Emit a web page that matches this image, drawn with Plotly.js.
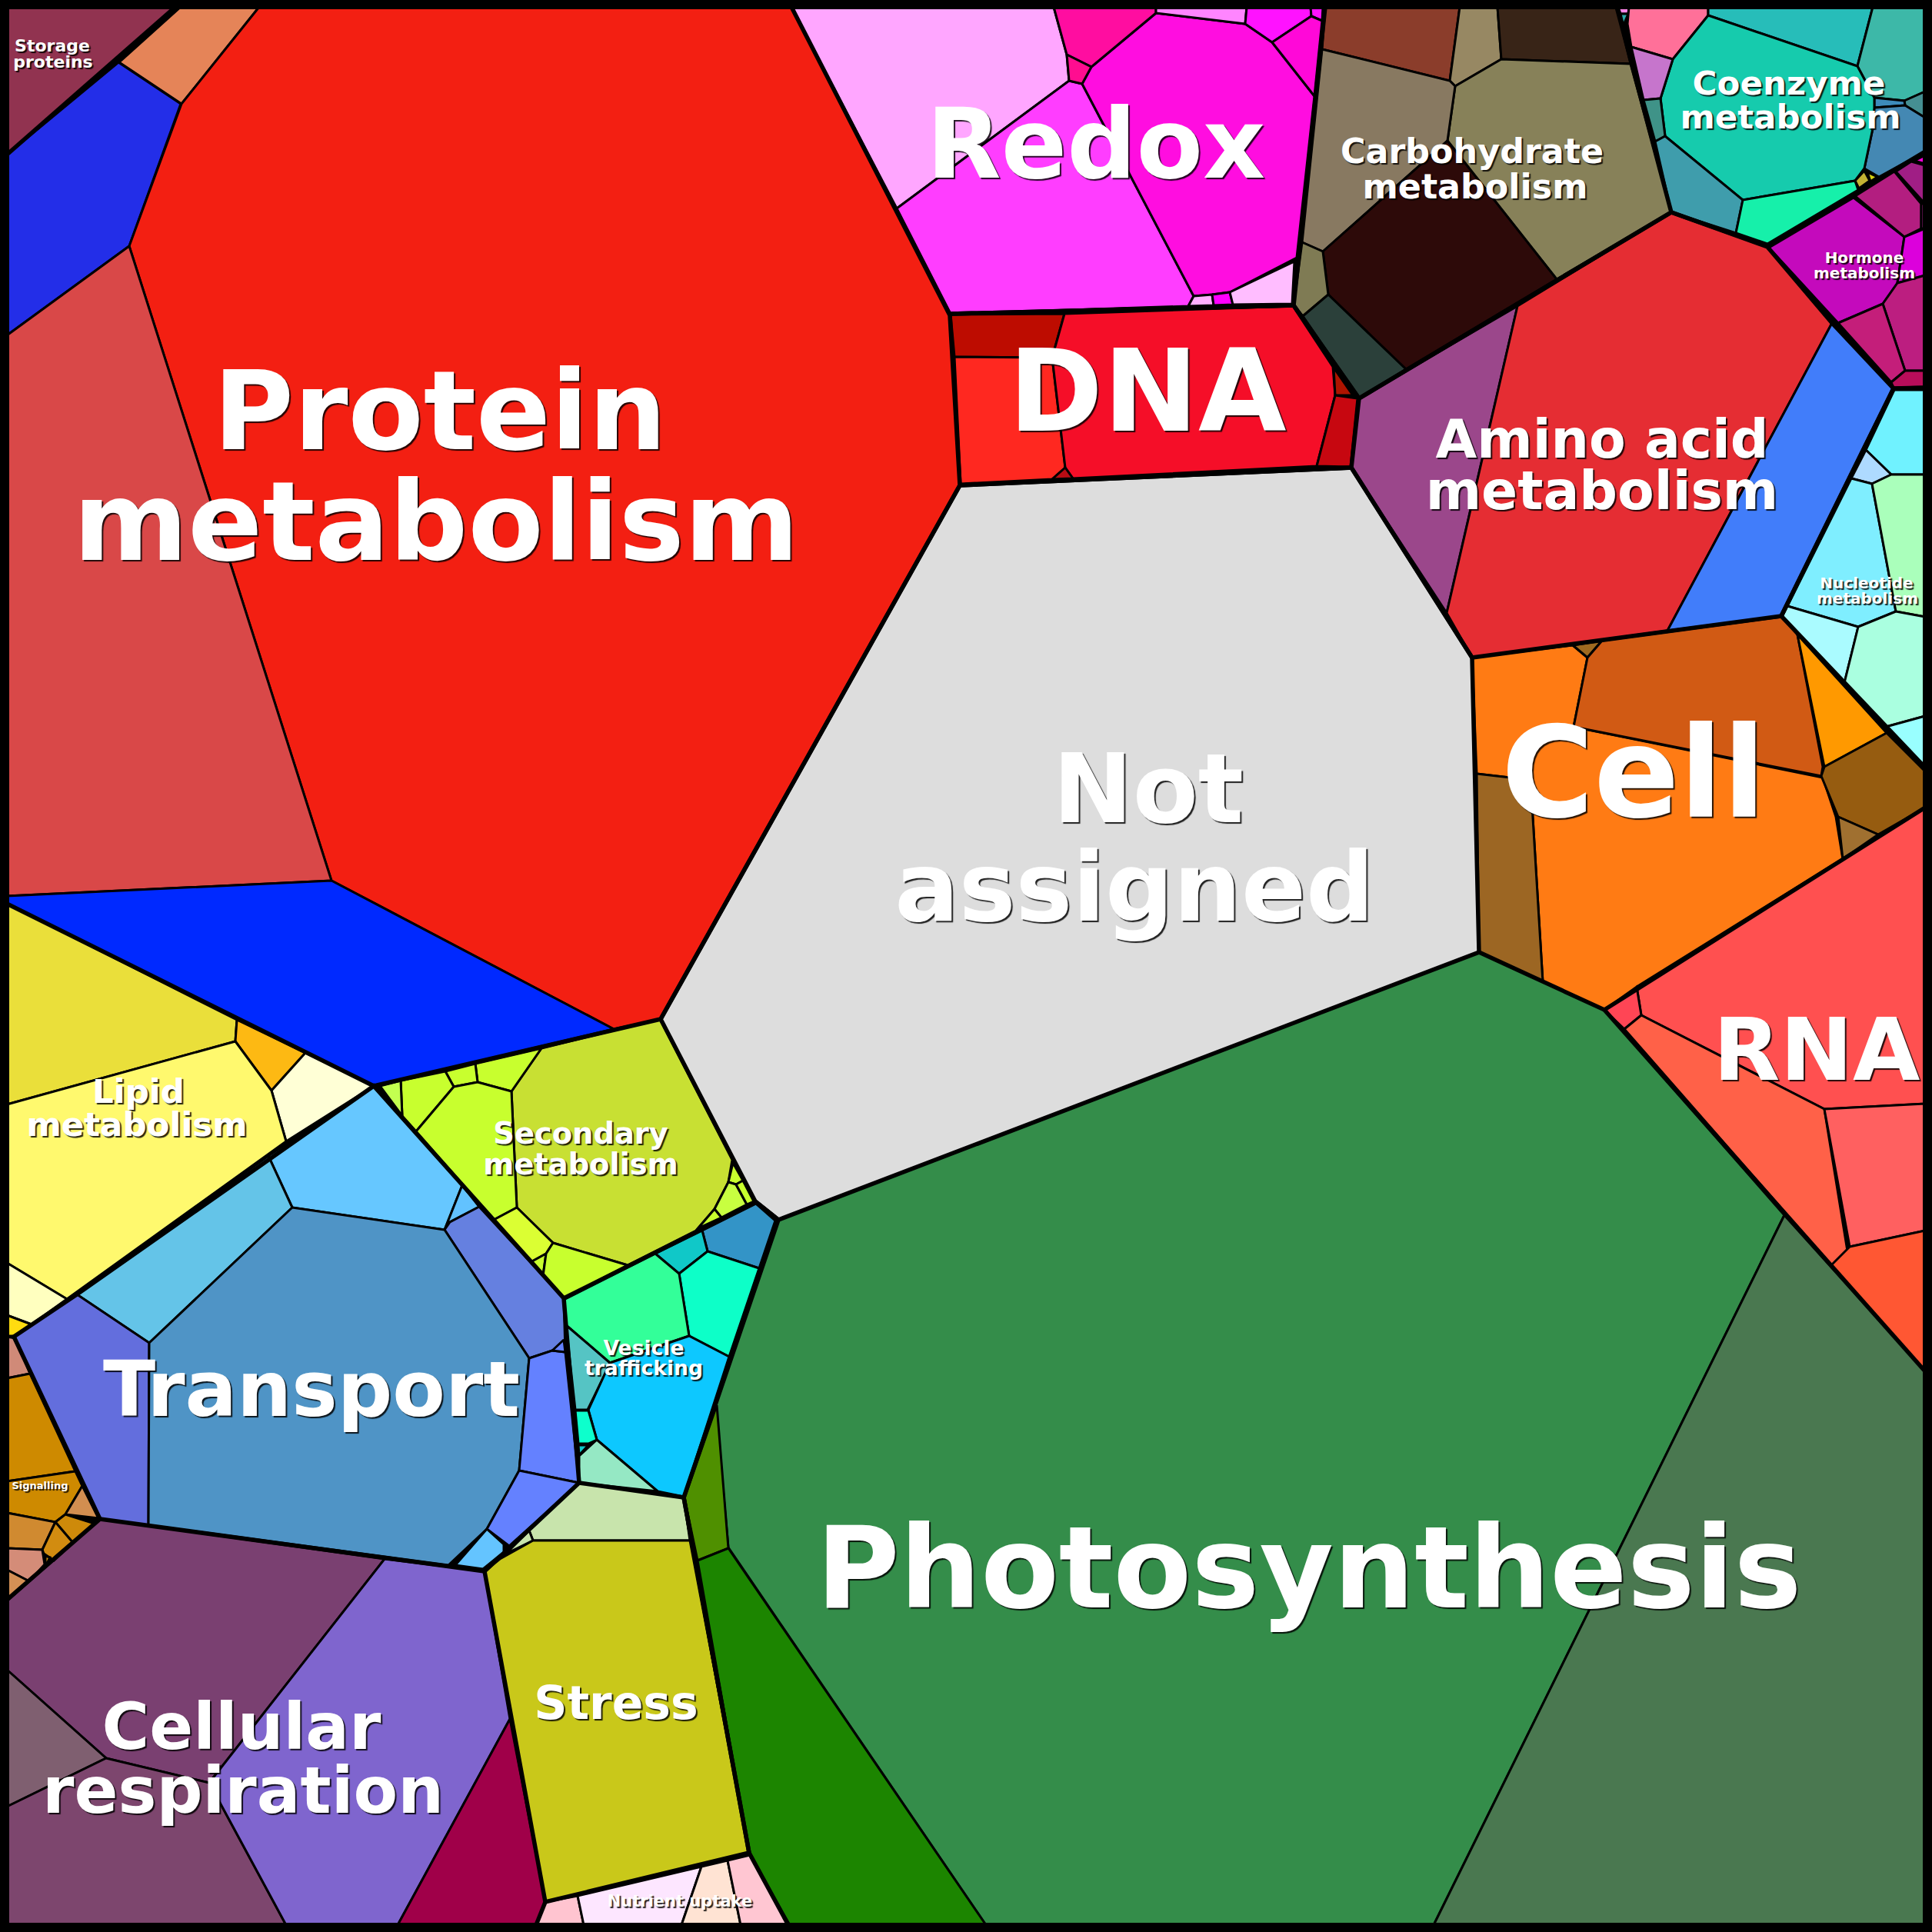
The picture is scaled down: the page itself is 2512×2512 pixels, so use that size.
<!DOCTYPE html>
<html>
<head>
<meta charset="utf-8">
<script src="https://cdn.plot.ly/plotly-3.0.1.min.js"></script>
<style>html,body{margin:0;padding:0;background:#000}#chart{width:2512px;height:2512px}</style>
</head>
<body>
<div id="chart"></div>
<script>
const storageCells = [[12,12,228,12,12,201]];
const storageColors = ['#913350'];
const proteinCells = [
 [235,12,337,12,236,135,155,81],
 [12,201,154,81,235,135,168,320,12,436],
 [337,12,1029,12,1235,410,1248,631,859,1325,798,1338,431,1145,168,320,236,135],
 [12,436,168,320,431,1145,12,1165],
 [12,1165,431,1145,798,1338,486,1412,12,1175]];
const proteinColors = ['#E58458','#232EE8','#F31F12','#D94848','#0029FF'];
const notAssignedCells = [[1248,631,1757,608,1914,855,1923,1238,1012,1586,982,1562,859,1325]];
const notAssignedColors = ['#DDDDDD'];
const redoxCells = [
 [1029,12,1370,12,1387,71,1390,105,1166,271],
 [1166,271,1390,105,1407,109,1552,385,1545,398,1236,408],
 [1407,109,1419,87,1503,17,1619,31,1654,55,1709,125,1686,335,1599,380,1576,383,1552,385],
 [1370,12,1503,12,1503,17,1419,87,1387,71],
 [1387,71,1419,87,1407,109,1390,105],
 [1503,12,1621,12,1619,31,1503,17],
 [1621,12,1704,12,1705,21,1654,55,1619,31],
 [1704,12,1720,12,1719,27,1705,21],
 [1705,21,1719,27,1709,125,1654,55],
 [1552,385,1576,383,1578,397,1545,398],
 [1576,383,1599,380,1603,396,1578,397],
 [1599,380,1683,340,1680,395,1603,396]];
const redoxColors = ['#FFA6FF','#FF3DFF','#FF0DE0','#FF0DA0','#FF0D90','#FF85FF','#FF12FF','#FF12FF','#FF08D8','#FFB0FF','#FF00FF','#FFBDFF'];
const dnaCells = [
 [1236,409,1384,408,1368,465,1241,464],
 [1241,464,1368,465,1385,608,1368,623,1249,629],
 [1384,408,1681,398,1733,477,1736,514,1712,606,1395,622,1385,608,1368,465],
 [1734,478,1759,514,1736,514],
 [1736,514,1765,518,1756,607,1712,606],
 [1368,623,1385,608,1395,622]];
const dnaColors = ['#BD0C00','#FF2820','#F50E28','#AE1400','#C70710','#B80C14'];
const carbohydrateCells = [
 [1723,12,1898,12,1885,105,1719,64],
 [1898,12,1947,12,1952,77,1892,112,1885,105],
 [1947,12,2102,12,2120,83,1952,77],
 [1892,112,1952,77,2120,83,2173,276,2024,363,1882,183],
 [1719,64,1885,105,1892,112,1882,183,1720,327,1693,315],
 [1720,327,1882,183,2024,363,1828,480,1727,383],
 [1693,315,1720,327,1727,383,1694,411,1682,397],
 [1694,411,1727,383,1828,480,1767,518]];
const carbohydrateColors = ['#8B3D2B','#978863','#382417','#878159','#887961','#2D0A09','#7F7B54','#2B403A'];
const aminoAcidCells = [
 [1767,518,1973,398,1881,797,1757,608],
 [1973,398,2173,276,2298,321,2382,420,2168,820,1914,855,1881,797],
 [2382,420,2462,505,2316,801,2168,820]];
const aminoAcidColors = ['#9B478B','#E52D33','#417DFA'];
const coenzymeCells = [
 [2104,12,2118,12,2117,18,2107,18],
 [2107,18,2117,18,2112,30,2110,30],
 [2110,31,2113,31,2119,61,2118,62],
 [2118,12,2221,12,2221,20,2175,77,2121,61,2116,31],
 [2221,12,2435,12,2415,86,2221,20],
 [2435,12,2500,12,2500,119,2476,131,2437,127,2415,86],
 [2476,131,2500,119,2500,153,2477,137],
 [2437,127,2476,131,2477,137,2437,140],
 [2437,140,2477,137,2500,153,2500,197,2443,230,2424,219,2435,167],
 [2221,20,2415,86,2437,127,2437,140,2435,167,2424,219,2412,235,2266,260,2165,177,2159,128,2175,77],
 [2121,61,2175,77,2159,128,2137,130],
 [2137,130,2159,128,2165,177,2152,184],
 [2152,184,2165,177,2266,260,2257,303,2173,276],
 [2266,260,2412,235,2416,247,2298,317,2257,303],
 [2412,235,2424,222,2431,235,2417,245],
 [2428,224,2441,230,2432,236]];
const coenzymeColors = ['#FF85E8','#2CA7A7','#FF70FF','#FF7099','#27BDB9','#3DB8A8','#458F92','#3D8BBB','#4488B3','#16CBAD','#C675CC','#3F9388','#3F9DAC','#16F0AA','#C2B233','#D4D010'];
const hormoneCells = [
 [2300,322,2410,257,2476,308,2467,368,2448,395,2390,420],
 [2412,255,2463,223,2498,265,2498,297,2476,308],
 [2465,223,2485,210,2500,215,2500,265],
 [2498,265,2500,265,2500,297,2498,297],
 [2489,209,2500,202,2500,213],
 [2476,308,2500,297,2500,358,2467,368],
 [2467,368,2500,358,2500,482,2477,482,2448,395],
 [2390,420,2448,395,2477,482,2459,497],
 [2477,482,2500,482,2500,503,2462,504,2459,497]];
const hormoneColors = ['#C40ABC','#B31E80','#A01E85','#9A1E80','#FF00E0','#DC00DC','#BC1E80','#C41E7A','#B80D5A'];
const nucleotideCells = [
 [2463,507,2500,507,2500,617,2459,617,2426,585],
 [2426,585,2459,617,2434,629,2407,622],
 [2407,622,2434,629,2465,795,2416,815,2324,788],
 [2459,617,2500,617,2500,802,2465,795,2434,629],
 [2324,788,2416,815,2398,888,2317,802],
 [2416,815,2465,795,2500,802,2500,931,2452,945,2398,888],
 [2452,945,2500,931,2500,998]];
const nucleotideColors = ['#70F2FF','#AEDAFF','#7FEEFF','#AAFFBB','#AAFBFF','#AAFFE0','#99FFFF'];
const cellCells = [
 [1914,855,2045,839,2064,855,2046,945,2370,1011,2387,1062,2396,1117,2086,1313,2006,1277,1990,1014,1920,1006],
 [1920,1006,1990,1014,2006,1277,1923,1238],
 [2045,839,2083,833,2064,855],
 [2064,855,2083,833,2317,802,2337,825,2370,997,2368,1009,2046,945],
 [2337,825,2453,953,2372,997],
 [2372,997,2453,953,2500,1003,2500,1050,2442,1085,2390,1062,2368,1009],
 [2390,1062,2442,1085,2396,1117]];
const cellColors = ['#FF7B14','#9C6623','#A06A20','#D15A14','#FF9900','#965C10','#A07030'];
const rnaCells = [
 [2128,1283,2500,1050,2500,1435,2372,1442,2134,1320],
 [2086,1313,2128,1283,2134,1320,2112,1338],
 [2112,1338,2134,1320,2372,1442,2405,1645,2381,1645],
 [2372,1442,2500,1435,2500,1600,2405,1621],
 [2405,1621,2500,1600,2500,1783,2381,1645]];
const rnaColors = ['#FF5050','#FF4555','#FF6148','#FF6060','#FF5733'];
const photosynthesisCells = [
 [1012,1586,1923,1238,2086,1313,2320,1580,1864,2500,1282,2500,947,2012,930,1825],
 [2320,1580,2500,1783,2500,2500,1864,2500],
 [932,1827,947,2013,907,2029,890,1948],
 [907,2029,947,2013,1282,2500,1025,2500,974,2409]];
const photosynthesisColors = ['#348D4A','#4A7850','#4F9000','#1C8500'];
const stressCells = [
 [753,1928,889,1947,897,2003,693,2003,688,1990],
 [688,1990,693,2003,658,2020],
 [693,2003,897,2003,974,2409,709,2473,630,2043,650,2027]];
const stressColors = ['#C8E4AC','#C8E4AC','#C9C81A'];
const nutrientCells = [
 [709,2473,751,2465,759,2500,697,2500],
 [751,2465,912,2427,886,2500,759,2500],
 [912,2427,946,2419,963,2500,886,2500],
 [946,2419,975,2412,1027,2500,963,2500]];
const nutrientColors = ['#FFC4D0','#FDE6FF','#FFE3D3','#FFC6D2'];
const respirationCells = [
 [12,2082,130,1975,500,2027,272,2318,138,2286,12,2171],
 [12,2171,138,2286,12,2349],
 [12,2349,138,2286,272,2318,372,2500,12,2500],
 [500,2027,630,2043,663,2235,517,2500,372,2500,272,2318],
 [663,2235,709,2473,697,2500,517,2500]];
const respirationColors = ['#7A4071','#7F5F70','#7D466E','#7F65CE','#A00049'];
const transportCells = [
 [486,1412,601,1541,578,1599,380,1570,349,1503],
 [601,1541,623,1569,585,1589,578,1599],
 [623,1569,733,1688,735,1758,718,1756,688,1766,578,1599,585,1589],
 [349,1503,380,1570,194,1746,100,1683],
 [18,1738,100,1683,194,1746,193,1983,130,1975],
 [194,1746,380,1570,578,1599,688,1766,675,1912,633,1988,583,2035,193,1983],
 [688,1766,718,1756,735,1758,753,1928,675,1912],
 [675,1912,753,1928,662,2010,633,1988],
 [718,1756,733,1742,735,1758],
 [633,1988,655,2008,655,2018,628,2040,592,2035]];
const transportColors = ['#66C7FF','#62C2FF','#6580E0','#64C4E8','#636EDD','#4F94C6','#6481FF','#6481FF','#6481FF','#64C4FF'];
const lipidCells = [
 [12,1175,308,1326,306,1354,12,1436],
 [308,1326,397,1369,353,1418,306,1354],
 [397,1369,486,1412,372,1484,353,1418],
 [12,1436,306,1354,353,1418,372,1484,87,1689,12,1642],
 [12,1642,87,1689,41,1722,12,1710],
 [12,1710,41,1722,20,1737,12,1737]];
const lipidColors = ['#EADF3A','#FDB913','#FFFFD6','#FFF96E','#FFFFBF','#FFDC10'];
const signallingCells = [
 [12,1738,20,1740,39,1786,12,1792],
 [12,1792,39,1786,98,1913,12,1926],
 [12,1926,98,1913,107,1932,85,1969,72,1979,12,1967],
 [107,1932,128,1974,85,1969],
 [85,1969,123,1981,95,2006,72,1979],
 [12,1967,72,1979,55,2015,12,2013],
 [72,1979,95,2006,70,2029,57,2020,55,2015],
 [59,2023,65,2025,59,2037],
 [12,2013,55,2015,58,2034,38,2056,12,2041],
 [12,2041,38,2056,12,2080]];
const signallingColors = ['#D08A78','#CE8A00','#CE8A00','#D28E50','#CE8A0A','#D08A30','#D28C10','#D29010','#D48C78','#D49055'];
const secondaryCells = [
 [704,1363,858,1325,952,1508,947,1537,929,1572,905,1600,816,1645,719,1616,672,1570,665,1419],
 [618,1383,704,1363,665,1419,621,1407],
 [579,1393,618,1383,621,1407,590,1413],
 [521,1405,579,1393,590,1413,541,1471,523,1451],
 [494,1412,521,1405,523,1451],
 [590,1413,621,1407,665,1419,672,1570,642,1586,541,1471],
 [642,1586,672,1570,719,1616,710,1630,690,1641],
 [690,1641,710,1630,706,1659],
 [719,1616,816,1645,733,1688,706,1659,710,1630],
 [953,1512,966,1535,957,1540,947,1537],
 [957,1540,971,1566,938,1583,929,1572,947,1537],
 [966,1535,980,1562,971,1566,957,1540],
 [929,1572,938,1583,910,1596,905,1600]];
const secondaryColors = ['#C8E033','#C8FF2E','#C8FF2E','#C8FF2E','#C3FF50','#C8FF2E','#DBFF33','#C8FF2E','#C8FF2E','#C8FF2E','#C8FF40','#C8FF2E','#C8FF2E'];
const vesicleCells = [
 [913,1600,983,1565,1008,1587,987,1649,920,1627],
 [852,1630,913,1600,920,1627,883,1656],
 [883,1656,920,1627,987,1649,948,1764,896,1737],
 [733,1690,852,1630,883,1656,896,1737,793,1772,736,1723],
 [736,1723,793,1772,786,1788,764,1833,748,1833],
 [793,1772,896,1737,948,1764,889,1946,855,1939,776,1872,765,1833,786,1788],
 [748,1834,765,1834,776,1872,765,1877,752,1877],
 [752,1879,765,1879,753,1892],
 [753,1893,776,1872,855,1939,753,1928]];
const vesicleColors = ['#3394C7','#10C8C8','#0DFFC8','#33FF99','#55C4C4','#0DC8FF','#0DFFCC','#10C8C8','#95E8C4'];

const groupOutlines = [
 [228,12,12,201],
 [228,12,1029,12,1235,410,1248,631,859,1325,486,1412,12,1175],
 [1248,631,1757,608,1914,855,1923,1238,1012,1586,982,1562,859,1325,1248,631],
 [1029,12,1723,12,1682,397,1236,408],
 [1236,408,1682,397,1767,518,1757,608,1248,631],
 [1723,12,2102,12,2173,276,1767,518,1682,397],
 [1767,518,2173,276,2298,321,2382,420,2462,505,2316,801,1914,855,1757,608],
 [2173,276,2298,320,2500,197],
 [2462,505,2500,504],
 [2462,505,2316,801,2500,998],
 [1923,1238,2086,1313,2500,1050],
 [2086,1313,2500,1783],
 [1012,1586,889,1947,974,2409,1025,2500],
 [753,1928,889,1947,974,2409,709,2473,630,2043,753,1928],
 [709,2473,697,2500],
 [130,1975,630,2043],
 [12,2080,130,1975,18,1738,100,1683,486,1412,733,1688,753,1928],
 [733,1688,983,1563,1012,1586]];
const outlineLabels = ['storage','protein','not assigned','redox','dna','carbohydrate','amino acid','coenzyme','hormone','nucleotide','cell','rna','photosynthesis','stress','nutrient','respiration','transport','secondary'];

const labelText = ['Protein','metabolism','Not','assigned','Photosynthesis','DNA','Redox','Coenzyme','metabolism','Carbohydrate','metabolism','Amino acid','metabolism','Cell','RNA','Hormone','metabolism','Nucleotide','metabolism','Lipid','metabolism','Secondary','metabolism','Vesicle','trafficking','Transport','Stress','Cellular','respiration','Storage','proteins','Signalling','Nutrient uptake'];
const labelX = [572,567,1493,1475,1702,1492,1425,2326,2328,1914,1918,2083,2083,2124,2362,2424,2424,2427,2428,180,178,755,755,837,837,405,801,314,316,68,69,52,884];
const labelBaseline = [585,729,1070,1198,2091,561,232,123,167,212,258,596,663,1064,1405,342,362,765,785,1434,1477,1487,1527,1762,1788,1842,2236,2275,2358,67,88,1936,2479];
const labelSize = [143,143,124,124,148,148,126,43.5,43.5,44.4,44.4,69.5,69.5,164,113,20,20,20,20,43.5,43.5,38.4,38.4,26.6,26.6,100,60,84,84,22,22,13,21];

const allGroups = [
 [storageCells,storageColors],[proteinCells,proteinColors],[notAssignedCells,notAssignedColors],
 [redoxCells,redoxColors],[dnaCells,dnaColors],[carbohydrateCells,carbohydrateColors],
 [aminoAcidCells,aminoAcidColors],[coenzymeCells,coenzymeColors],[hormoneCells,hormoneColors],
 [nucleotideCells,nucleotideColors],[cellCells,cellColors],[rnaCells,rnaColors],
 [photosynthesisCells,photosynthesisColors],[stressCells,stressColors],[nutrientCells,nutrientColors],
 [respirationCells,respirationColors],[transportCells,transportColors],[lipidCells,lipidColors],
 [signallingCells,signallingColors],[secondaryCells,secondaryColors],[vesicleCells,vesicleColors]];

// Points on the frame are pushed under it, so cell strokes do not thicken the frame.
const underFrame = v => v <= 12 ? 9 : (v >= 2500 ? 2503 : v);
const xs = f => f.filter((_, i) => i % 2 === 0).map(underFrame);
const ys = f => f.filter((_, i) => i % 2 === 1).map(underFrame);
const traces = [];
allGroups.forEach(([cells, colors]) => {
  cells.forEach((poly, i) => {
    const px = xs(poly), py = ys(poly);
    px.push(px[0]); py.push(py[0]);
    traces.push({type:'scatter', mode:'lines', x:px, y:py, fill:'toself', fillcolor:colors[i],
      line:{color:'#000', width:3, shape:'linear'}, hoverinfo:'skip', showlegend:false});
  });
});
groupOutlines.forEach((poly, i) => {
  traces.push({type:'scatter', mode:'lines', name:outlineLabels[i], x:xs(poly), y:ys(poly),
    line:{color:'#000', width:5.5}, hoverinfo:'skip', showlegend:false});
});
traces.push({type:'scatter', mode:'lines', x:[6,2506,2506,6,6], y:[6,6,2506,2506,6],
  line:{color:'#000', width:12}, hoverinfo:'skip', showlegend:false});
traces.push({type:'scatter', mode:'text', x:labelX,
  y:labelBaseline.map((b, i) => b - 0.26 * labelSize[i]),
  text:labelText, textposition:'middle center', cliponaxis:false,
  textfont:{family:'"DejaVu Sans"', weight:700, size:labelSize, color:'#fff', shadow:'2px 2px 1px rgba(0,0,0,0.85)'},
  hoverinfo:'skip', showlegend:false});

Plotly.newPlot('chart', traces, {
  width:2512, height:2512, margin:{l:0,r:0,t:0,b:0,pad:0},
  paper_bgcolor:'#000', plot_bgcolor:'#000', showlegend:false,
  xaxis:{range:[0,2512], visible:false, fixedrange:true},
  yaxis:{range:[2512,0], visible:false, fixedrange:true}
}, {displayModeBar:false, staticPlot:true});
</script>
</body>
</html>
